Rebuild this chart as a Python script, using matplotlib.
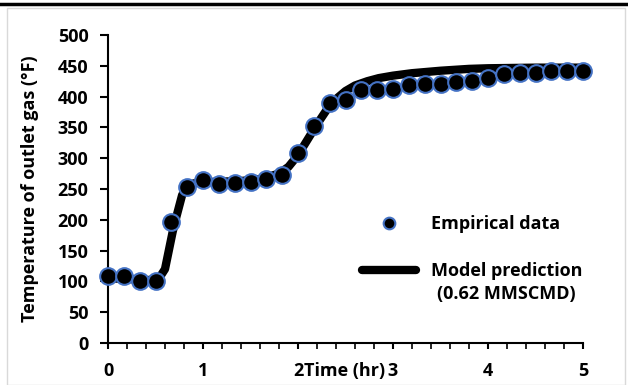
import numpy as np
import matplotlib.pyplot as plt
from matplotlib.patches import Rectangle
from matplotlib.lines import Line2D

plt.rcParams['font.family'] = ['Open Sans', 'DejaVu Sans']
plt.rcParams['font.weight'] = 'bold'

# empirical data, every 10 min
time_hr = np.arange(31) / 6.0
temp_meas = [108, 108, 101, 101, 196, 253, 264, 258, 259, 262, 266, 273, 308, 353, 390,
             394, 410, 410, 412, 419, 420, 420, 424, 425, 430, 436, 438, 439, 441, 441, 441]

# model prediction curve
t_model = [0, 0.2, 0.4, 0.5, 0.55, 0.6, 0.64, 0.68, 0.72, 0.78, 0.83, 0.9, 1.0, 1.2, 1.4,
           1.6, 1.8, 1.9, 2.0, 2.1, 2.2, 2.3, 2.4, 2.5, 2.6, 2.73, 2.85, 3.0, 3.2, 3.5, 3.8,
           4.0, 4.5, 5.0]
temp_model = [105, 104, 102, 103, 108, 120, 150, 180, 205, 240, 254, 259, 261, 262, 263,
              266, 275, 286, 305, 330, 355, 378, 396, 409, 418, 425, 430, 434, 438, 442, 445,
              446, 447, 447]

fs = 13

fig = plt.figure(figsize=(6.28, 3.85), dpi=100)
# axes box: x 108..583 px, y 35..343 px
ax = fig.add_axes([108/628, 42/385, 475/628, 308/385])

# frame and top rule
fig.add_artist(Rectangle((7/628, 0), 618/628, 1 - 8/385, transform=fig.transFigure,
                         fill=False, edgecolor='#d9d9d9', lw=1))
fig.add_artist(Line2D([0, 1], [1 - 4/385, 1 - 4/385], transform=fig.transFigure,
                      color='black', lw=2.5))

ax.plot(t_model, temp_model, color='black', lw=6, solid_capstyle='round',
        label='Model prediction', zorder=2)
ax.plot(time_hr, temp_meas, 'o', ms=12, mfc='black', mec='#4472c4', mew=1.5,
        label='Empirical data', clip_on=False, zorder=3)

ax.set_xlim(0, 5)
ax.set_ylim(0, 500)
ax.set_xticks(range(6))
ax.set_xticks(np.arange(0, 5.01, 0.2), minor=True)
ax.set_yticks(range(0, 501, 50))
ax.tick_params(axis='both', labelsize=fs, width=1.5, direction='out')
ax.tick_params(axis='y', length=6, pad=8)
ax.tick_params(axis='x', length=4.5, pad=9)
ax.tick_params(axis='x', which='minor', width=1.2, length=4)
for s in ['top', 'right']:
    ax.spines[s].set_visible(False)
for s in ['left', 'bottom']:
    ax.spines[s].set_linewidth(1.5)

ax.set_ylabel('Temperature of outlet gas (°F)', fontsize=fs, fontweight='bold')
ax.yaxis.set_label_coords(-0.145, 0.5)
ax.annotate('Time (hr)', xy=(2.495, 0), xycoords=('data', 'axes fraction'),
            xytext=(0, -13.5), textcoords='offset points', ha='center', va='top',
            fontsize=fs, fontweight='bold')

h, l = ax.get_legend_handles_labels()
leg = ax.legend(h[::-1], l[::-1], loc='upper left', bbox_to_anchor=(0.535, 0.415),
                borderpad=0, borderaxespad=0, frameon=False, fontsize=fs,
                handlelength=3.0, labelspacing=1.6, handletextpad=0.8, markerscale=0.7)

# second line of the model label, centred under "Model prediction"
fig.canvas.draw()
bb = leg.get_texts()[1].get_window_extent().transformed(fig.transFigure.inverted())
fig.text((bb.x0 + bb.x1) / 2, bb.y0 - 0.012, '(0.62 MMSCMD)', ha='center', va='top',
         fontsize=fs, fontweight='bold')

fig.savefig('out.png', dpi=100)
